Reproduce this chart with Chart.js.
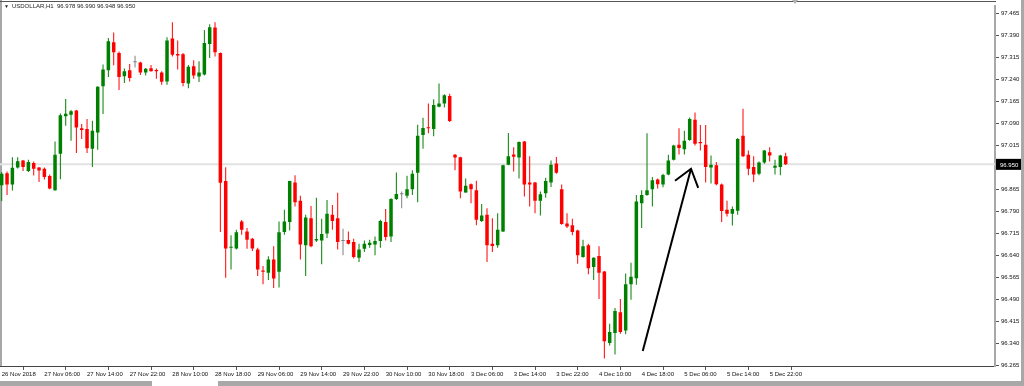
<!DOCTYPE html>
<html lang="en">
  <head>
    <meta charset="UTF-8" />
    <title>USDOLLAR,H1</title>
    <script src="https://cdn.jsdelivr.net/npm/chart.js"></script>
    <style>
      * {
        margin: 0;
        padding: 0;
        box-sizing: border-box;
      }

      body {
        width: 1024px;
        height: 386px;
        overflow: hidden;
        background: #fff;
        font-family: "Liberation Sans", Arial, sans-serif;
      }

      .frame {
        position: relative;
        width: 1024px;
        height: 386px;
      }

      /* terminal window bits around the plot */
      .edge-left {
        position: absolute;
        left: 0;
        top: 0;
        width: 2px;
        height: 367px;
        background: #a8a8a8;
      }
      .edge-top {
        position: absolute;
        left: 0;
        top: 1px;
        width: 996px;
        height: 1px;
        background: #555;
      }
      .edge-right {
        position: absolute;
        left: 1021px;
        top: 0;
        width: 3px;
        height: 386px;
        background: #a8a8a8;
      }
      .tabs {
        position: absolute;
        left: 0;
        top: 381px;
        width: 1024px;
        height: 5px;
        background: #a8a8a8;
      }
      .tabs .active {
        position: absolute;
        left: 152px;
        top: 0;
        width: 66px;
        height: 5px;
        background: #fff;
      }
      .shift {
        position: absolute;
        left: 792px;
        top: 0;
        border-left: 3px solid transparent;
        border-right: 3px solid transparent;
        border-top: 4px solid #b0b0b0;
      }

      #chart {
        position: absolute;
        left: 0;
        top: 0;
      }

      .title {
        position: absolute;
        left: 4px;
        top: 3px;
        font-size: 6px;
        color: #222;
        white-space: pre;
      }
      .title .arrow {
        font-size: 5px;
        margin-right: 3px;
      }
    </style>
  </head>
  <body>
    <div class="frame">
      <div class="edge-left"></div>
      <div class="edge-top"></div>
      <div class="edge-right"></div>
      <div class="tabs"><div class="active"></div></div>
      <canvas id="chart" width="1024" height="386"></canvas>
      <div class="shift"></div>
      <div class="title"><span class="arrow">▼</span>USDOLLAR,H1  96.978 96.990 96.948 96.950</div>
    </div>

    <script>
      // hourly candles, 26 Nov 2018 00:00 .. 5 Dec 2018
      var openP = [
        96.879, 96.920, 96.881, 96.939, 96.963, 96.927, 96.955, 96.939, 96.935, 96.910,
        96.862, 96.986, 97.114, 97.119, 97.134, 97.073, 97.071, 97.003, 97.059, 97.217,
        97.271, 97.367, 97.330, 97.251, 97.271, 97.299, 97.298, 97.264, 97.278, 97.272,
        97.264, 97.233, 97.380, 97.327, 97.326, 97.226, 97.285, 97.250, 97.257, 97.361,
        97.417, 97.330, 96.893, 96.665, 96.663, 96.755, 96.721, 96.696, 96.659, 96.588,
        96.580, 96.625, 96.583, 96.719, 96.753, 96.888, 96.826, 96.674, 96.766, 96.690,
        96.690, 96.714, 96.778, 96.766, 96.688, 96.692, 96.685, 96.631, 96.662, 96.675,
        96.676, 96.688, 96.753, 96.704, 96.832, 96.848, 96.843, 96.865, 96.921, 97.050,
        97.077, 97.071, 97.147, 97.158, 97.183, 96.983, 96.974, 96.854, 96.882, 96.862,
        96.757, 96.778, 96.679, 96.674, 96.721, 96.949, 96.984, 96.973, 97.028, 96.888,
        96.888, 96.826, 96.851, 96.888, 96.953, 96.865, 96.748, 96.742, 96.724, 96.634,
        96.674, 96.600, 96.637, 96.584, 96.340, 96.374, 96.445, 96.383, 96.541, 96.561,
        96.817, 96.845, 96.865, 96.898, 96.881, 96.915, 96.966, 97.017, 97.002, 97.033,
        97.102, 97.026, 97.017, 96.939, 96.947, 96.881, 96.795, 96.781, 96.792, 97.048,
        96.983, 96.941, 96.918, 96.956, 96.991, 96.938, 96.941, 96.978
      ];
      var highP = [
        96.924, 96.926, 96.974, 96.974, 96.965, 96.966, 96.960, 96.941, 96.939, 96.915,
        97.028, 97.124, 97.173, 97.136, 97.136, 97.088, 97.105, 97.099, 97.217, 97.291,
        97.381, 97.400, 97.335, 97.277, 97.293, 97.321, 97.300, 97.279, 97.289, 97.277,
        97.268, 97.384, 97.435, 97.373, 97.330, 97.289, 97.305, 97.302, 97.409, 97.428,
        97.435, 97.332, 96.940, 96.708, 96.727, 96.760, 96.733, 96.699, 96.665, 96.603,
        96.636, 96.670, 96.755, 96.795, 96.894, 96.913, 96.843, 96.778, 96.808, 96.836,
        96.764, 96.828, 96.811, 96.853, 96.730, 96.721, 96.696, 96.679, 96.690, 96.693,
        96.704, 96.761, 96.798, 96.834, 96.922, 96.857, 96.911, 96.930, 97.085, 97.109,
        97.158, 97.172, 97.226, 97.189, 97.191, 96.985, 96.976, 96.902, 96.885, 96.894,
        96.815, 96.800, 96.766, 96.783, 96.949, 97.057, 97.008, 97.028, 97.030, 96.978,
        96.890, 96.857, 96.904, 96.963, 96.975, 96.881, 96.783, 96.764, 96.727, 96.693,
        96.679, 96.633, 96.670, 96.586, 96.406, 96.460, 96.490, 96.577, 96.614, 96.845,
        96.862, 97.056, 96.907, 96.902, 96.918, 96.983, 97.017, 97.073, 97.065, 97.110,
        97.127, 97.084, 97.084, 96.980, 96.958, 96.885, 96.826, 96.806, 97.040, 97.140,
        96.997, 96.978, 96.960, 96.999, 97.008, 96.966, 96.983, 96.990
      ];
      var lowP = [
        96.825, 96.845, 96.861, 96.936, 96.927, 96.924, 96.912, 96.890, 96.898, 96.865,
        96.860, 96.899, 97.082, 97.031, 96.989, 97.037, 96.989, 96.941, 97.000, 97.122,
        97.248, 97.288, 97.204, 97.228, 97.233, 97.281, 97.255, 97.253, 97.267, 97.242,
        97.222, 97.222, 97.318, 97.274, 97.217, 97.210, 97.242, 97.231, 97.253, 97.313,
        97.318, 96.719, 96.563, 96.591, 96.659, 96.710, 96.662, 96.654, 96.569, 96.541,
        96.555, 96.528, 96.530, 96.710, 96.724, 96.806, 96.625, 96.569, 96.667, 96.685,
        96.609, 96.699, 96.727, 96.659, 96.640, 96.676, 96.629, 96.617, 96.651, 96.665,
        96.640, 96.665, 96.690, 96.685, 96.828, 96.800, 96.834, 96.845, 96.821, 97.003,
        97.056, 97.046, 97.145, 97.144, 97.095, 96.930, 96.834, 96.853, 96.817, 96.742,
        96.753, 96.617, 96.651, 96.665, 96.719, 96.947, 96.926, 96.902, 96.840, 96.806,
        96.783, 96.775, 96.836, 96.873, 96.918, 96.744, 96.733, 96.708, 96.611, 96.631,
        96.575, 96.555, 96.490, 96.287, 96.332, 96.301, 96.372, 96.370, 96.488, 96.539,
        96.733, 96.843, 96.806, 96.868, 96.872, 96.913, 96.963, 96.984, 96.984, 97.031,
        97.014, 96.997, 96.888, 96.885, 96.879, 96.753, 96.772, 96.741, 96.778, 96.975,
        96.913, 96.890, 96.913, 96.952, 96.960, 96.915, 96.913, 96.948
      ];
      var closeP = [
        96.918, 96.881, 96.938, 96.961, 96.941, 96.958, 96.935, 96.929, 96.907, 96.868,
        96.983, 97.118, 97.123, 97.131, 97.076, 97.067, 97.005, 97.065, 97.215, 97.274,
        97.370, 97.333, 97.248, 97.268, 97.245, 97.299, 97.264, 97.276, 97.268, 97.268,
        97.232, 97.373, 97.324, 97.322, 97.228, 97.283, 97.253, 97.264, 97.364, 97.418,
        97.333, 96.887, 96.663, 96.667, 96.718, 96.727, 96.693, 96.663, 96.591, 96.583,
        96.625, 96.560, 96.718, 96.755, 96.893, 96.821, 96.676, 96.769, 96.670, 96.695,
        96.712, 96.781, 96.757, 96.685, 96.688, 96.679, 96.634, 96.659, 96.679, 96.682,
        96.688, 96.757, 96.702, 96.832, 96.849, 96.848, 96.865, 96.918, 97.048, 97.074,
        97.073, 97.153, 97.158, 97.186, 97.098, 96.973, 96.857, 96.877, 96.865, 96.761,
        96.775, 96.674, 96.671, 96.727, 96.947, 96.978, 96.976, 97.026, 96.881, 96.881,
        96.826, 96.848, 96.893, 96.949, 96.921, 96.746, 96.738, 96.719, 96.640, 96.670,
        96.595, 96.631, 96.580, 96.346, 96.378, 96.449, 96.378, 96.541, 96.566, 96.823,
        96.845, 96.862, 96.896, 96.882, 96.914, 96.963, 97.014, 97.006, 97.031, 97.105,
        97.020, 97.022, 96.941, 96.949, 96.882, 96.791, 96.781, 96.798, 97.037, 96.978,
        96.935, 96.915, 96.956, 96.997, 96.980, 96.945, 96.980, 96.950
      ];

      // time axis: bar index of each label and its text
      var timeIdx = [0, 8, 16, 24, 32, 40, 48, 56, 64, 72, 80, 88, 96, 104, 112, 120, 128, 136, 144];
      var timeLabels = [
        "26 Nov 2018", "27 Nov 06:00", "27 Nov 14:00", "27 Nov 22:00", "28 Nov 10:00",
        "28 Nov 18:00", "29 Nov 06:00", "29 Nov 14:00", "29 Nov 22:00", "30 Nov 10:00",
        "30 Nov 18:00", "3 Dec 06:00", "3 Dec 14:00", "3 Dec 22:00", "4 Dec 10:00",
        "4 Dec 18:00", "5 Dec 06:00", "5 Dec 14:00", "5 Dec 22:00"
      ];

      // price axis labels (96.940 is covered by the bid label)
      var priceTicks = [
        97.465, 97.390, 97.315, 97.240, 97.165, 97.090, 97.015,
        96.865, 96.790, 96.715, 96.640, 96.565, 96.490, 96.415, 96.340, 96.265
      ];

      // hand drawn arrow, in bar index / price units
      var arrowShaftX = [120.2, 129.25];
      var arrowShaftY = [96.313, 96.935];
      var arrowHeadX = [126.25, 129.25, 130.6];
      var arrowHeadY = [96.894, 96.935, 96.870];

      var xMin = -0.32;
      var xMax = 186.25;
      var yMin = 96.2616;
      var yMax = 97.492;

      var GREEN = "#008000";
      var RED = "#ff0000";
      var GREY = "#808080";

      var lastIdx = closeP.length - 1;
      var lastClose = closeP[lastIdx];

      var candleColors = openP.map(function (o, i) {
        if (closeP[i] > o) return GREEN;
        if (closeP[i] < o) return RED;
        return GREY;
      });

      var wicks = openP.map(function (o, i) {
        return { x: i, y: [lowP[i], highP[i]] };
      });
      var bodies = openP.map(function (o, i) {
        return { x: i, y: [o, closeP[i]] };
      });

      // black bid box on the price scale
      var bidLabel = {
        id: "bidLabel",
        afterDraw: function (chart) {
          var ctx = chart.ctx;
          var area = chart.chartArea;
          var y = chart.scales.y.getPixelForValue(lastClose);
          ctx.save();
          ctx.fillStyle = "#000";
          ctx.fillRect(area.right + 1, y - 5.5, 25, 11);
          ctx.fillStyle = "#fff";
          ctx.font = '6px "Liberation Sans", Arial, sans-serif';
          ctx.textBaseline = "middle";
          ctx.textAlign = "left";
          ctx.fillText(lastClose.toFixed(3), area.right + 5, y + 0.5);
          ctx.restore();
        },
      };

      var ctx = document.getElementById("chart").getContext("2d");
      var chart = new Chart(ctx, {
        type: "bar",
        data: {
          datasets: [
            {
              type: "line",
              label: "bid",
              data: [
                { x: xMin, y: lastClose },
                { x: xMax, y: lastClose },
              ],
              borderColor: "#e2e2e2",
              borderWidth: 2,
              pointRadius: 0,
              order: 10,
            },
            {
              label: "wicks",
              data: wicks,
              backgroundColor: candleColors,
              barThickness: 1,
              minBarLength: 1,
              grouped: false,
              inflateAmount: 0,
              borderWidth: 0,
              order: 3,
            },
            {
              label: "bodies",
              data: bodies,
              backgroundColor: candleColors,
              barThickness: 3.5,
              minBarLength: 1,
              grouped: false,
              inflateAmount: 0,
              borderWidth: 0,
              order: 2,
            },
            {
              type: "line",
              label: "arrow shaft",
              data: arrowShaftX.map(function (x, i) {
                return { x: x, y: arrowShaftY[i] };
              }),
              borderColor: "#000",
              borderWidth: 2,
              pointRadius: 0,
              order: 1,
            },
            {
              type: "line",
              label: "arrow head",
              data: arrowHeadX.map(function (x, i) {
                return { x: x, y: arrowHeadY[i] };
              }),
              borderColor: "#000",
              borderWidth: 2,
              pointRadius: 0,
              order: 1,
            },
          ],
        },
        options: {
          responsive: false,
          animation: false,
          layout: { padding: { top: 2, left: 0, right: 0, bottom: 0 } },
          plugins: {
            legend: { display: false },
            tooltip: { enabled: false },
          },
          scales: {
            x: {
              type: "linear",
              offset: false,
              min: xMin,
              max: xMax,
              afterBuildTicks: function (scale) {
                scale.ticks = timeIdx.map(function (v) {
                  return { value: v };
                });
              },
              afterFit: function (scale) {
                scale.height = 20;
              },
              ticks: {
                autoSkip: false,
                maxRotation: 0,
                align: "start",
                padding: 1,
                color: "#111",
                font: { family: '"Liberation Sans", Arial, sans-serif', size: 6 },
                callback: function (v, i) {
                  return timeLabels[i];
                },
              },
              grid: {
                drawOnChartArea: false,
                tickLength: 4,
                color: "#555",
              },
              border: { color: "#444", width: 1 },
            },
            y: {
              position: "right",
              beginAtZero: false,
              min: yMin,
              max: yMax,
              afterBuildTicks: function (scale) {
                scale.ticks = priceTicks.map(function (v) {
                  return { value: v };
                });
              },
              afterFit: function (scale) {
                scale.width = 29;
              },
              ticks: {
                padding: 2,
                color: "#111",
                font: { family: '"Liberation Sans", Arial, sans-serif', size: 6 },
                callback: function (v) {
                  return v.toFixed(3);
                },
              },
              grid: {
                drawOnChartArea: false,
                tickLength: 4,
                color: "#555",
              },
              border: { color: "#a8a8a8", width: 2 },
            },
          },
        },
        plugins: [bidLabel],
      });
    </script>
  </body>
</html>
